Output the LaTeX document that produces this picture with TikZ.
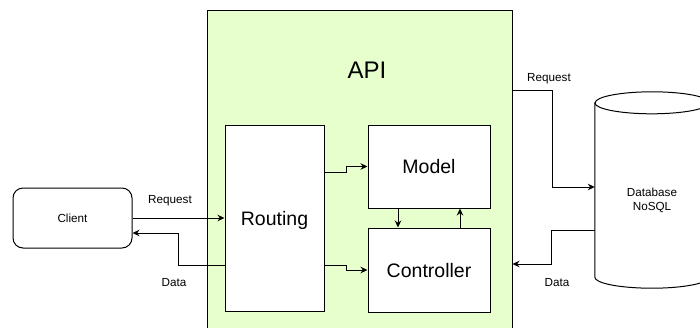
\documentclass[tikz,border=0pt]{standalone}
\usepackage{fontspec}
\setmainfont{Liberation Sans}
\usetikzlibrary{arrows.meta}
\definecolor{apigreen}{HTML}{E6FFCC}
\tikzset{
  box/.style={draw=black, line width=1pt, fill=white, inner sep=0pt},
  small/.style={font=\fontsize{11.7}{14}\selectfont},
  big/.style={font=\fontsize{19.5}{23}\selectfont, text depth=0pt},
  arr/.style={draw=black, line width=1pt, -{Stealth[length=7pt,width=6.5pt]}},
  lbl/.style={small, inner sep=0pt, text depth=0pt}
}
\begin{document}
\begin{tikzpicture}[x=1pt,y=-1pt]
\useasboundingbox (0,0) rectangle (700,327);
\fill[white] (0,0) rectangle (700,327);
\clip (0,0) rectangle (700,327);
% API container
\node[box, fill=apigreen, minimum width=305pt, minimum height=330pt] (api) at (359.5,175) {};
\node[inner sep=0pt, text depth=0pt, font=\fontsize{24}{28}\selectfont] (apilbl) at (367,70) {API};
% inner boxes
\node[box, big, minimum width=99pt, minimum height=186pt] (routing) at (274.5,218) {Routing};
\node[box, big, minimum width=122pt, minimum height=83pt] (model) at (429,166.5) {Model};
\node[box, big, minimum width=122pt, minimum height=84pt] (controller) at (429,270) {Controller};
% client
\node[box, small, text depth=0pt, rounded corners=10pt, minimum width=119pt, minimum height=60pt] (client) at (72.5,218) {Client};
% database cylinder
\node[inner sep=0pt, minimum width=114pt, minimum height=196pt] (db) at (652,190) {};
\draw[line width=1pt, fill=white]
  ([yshift=-11pt]db.north west) -- ([yshift=11pt]db.south west)
  arc[start angle=180, end angle=360, x radius=57pt, y radius=11pt]
  -- ([yshift=-11pt]db.north east)
  arc[start angle=0, end angle=180, x radius=57pt, y radius=11pt] -- cycle;
\draw[line width=1pt] ([yshift=-11pt]db.north west)
  arc[start angle=180, end angle=360, x radius=57pt, y radius=11pt];
\node[small, align=center, inner sep=0pt] (dbtext) at (652,200) {Database\\NoSQL};
% connectors
\draw[arr] (client.east) -- (routing.west);
\draw[arr] ([yshift=-47pt]routing.west) -- ++(-46,0) |- ([yshift=-15pt]client.east);
\draw[arr] ([yshift=46pt]routing.east) -- ++(22,0) |- (model.west);
\draw[arr] ([yshift=-47pt]routing.east) -- ++(22,0) |- (controller.west);
\draw[arr] ([xshift=-31pt]model.south) -- ([xshift=-31pt]controller.north);
\draw[arr] ([xshift=31pt]controller.north) -- ([xshift=31pt]model.south);
\draw[arr] ([yshift=85pt]api.east) -- ++(40,0) |- ([yshift=3pt]db.west);
\draw[arr] ([yshift=-40pt]db.west) -- ++(-43,0) |- ([yshift=-89pt]api.east);
% labels
\node[lbl] (lreq) at (170,199) {Request};
\node[lbl] (ldata) at (174,282) {Data};
\node[lbl] (rreq) at (549,77.5) {Request};
\node[lbl] (rdata) at (557,282) {Data};
\end{tikzpicture}
\end{document}
